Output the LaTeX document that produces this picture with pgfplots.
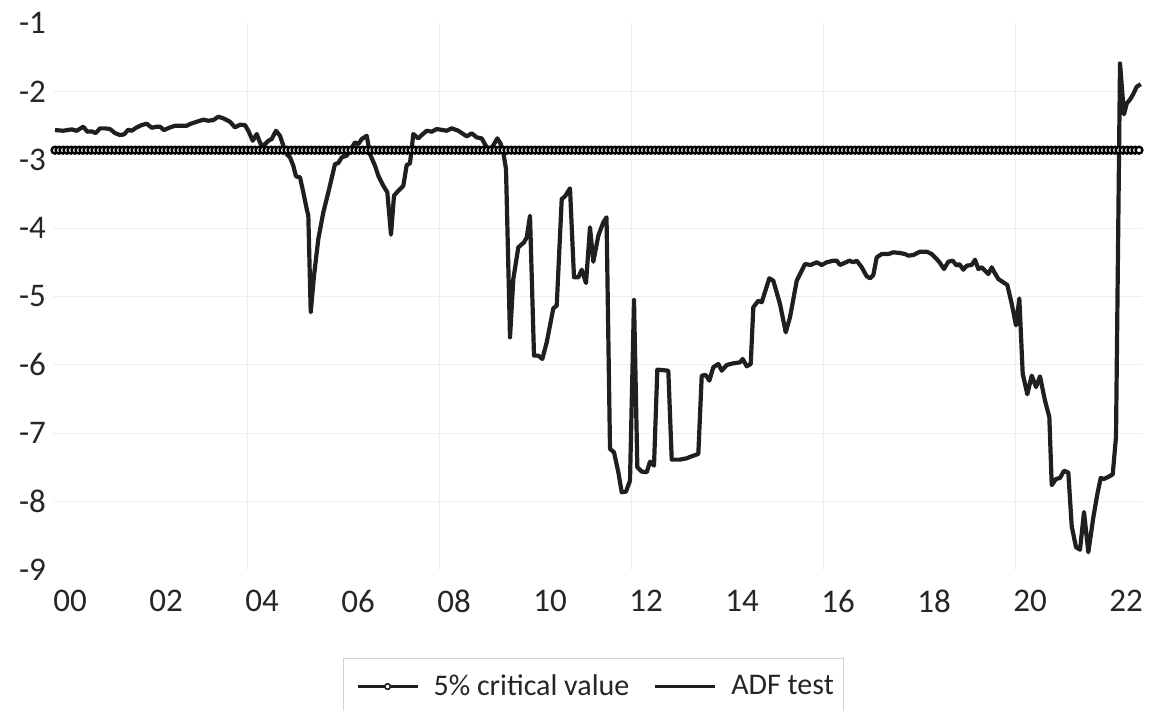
\documentclass[border=0pt]{standalone}
\usepackage{fontspec}
\setmainfont{Carlito}
\usepackage{pgfplots}
\pgfplotsset{compat=1.18}
\definecolor{linec}{HTML}{1F1F1F}
\definecolor{gridc}{HTML}{EFEFEF}
\definecolor{textc}{HTML}{262626}
\begin{document}
\begin{tikzpicture}
\begin{axis}[
  at={(26.5pt,70.5pt)}, anchor=south west,
  width=544.5pt, height=273.5pt, scale only axis,
  xmin=-0.5, xmax=271.75, ymin=-9, ymax=-1,
  axis line style={draw=none},
  major tick length=0pt,
  xtick={3.75,27.75,51.75,75.75,99.75,123.75,147.75,171.75,195.75,219.75,243.75,267.75},
  xticklabels={00,02,04,06,08,10,12,14,16,18,20,22},
  extra x ticks={48,96,144,192,240},
  extra x tick labels={},
  extra x tick style={xmajorgrids=true},
  ytick={-8,-7,-6,-5,-4,-3,-2},
  yticklabels={-8,-7,-6,-5,-4,-3,-2},
  ymajorgrids=true,
  extra y ticks={-9,-1},
  extra y tick labels={-9,-1},
  extra y tick style={ymajorgrids=false},
  grid style={gridc, line width=0.5pt},
  tick label style={font=\fontsize{16.5pt}{19pt}\selectfont, text=textc},
  xticklabel style={yshift=-6.5pt},
  legend columns=-1,
  legend style={at={(axis description cs:0.2663,-0.1609)}, anchor=north west,
    draw=gray!35, line width=0.6pt, fill=white,
    font=\fontsize{15pt}{18pt}\selectfont, text=textc,
    inner xsep=3pt, inner ysep=6pt,
    /tikz/every even column/.append style={column sep=7pt}},
]
\addplot[color=linec, line width=0.7pt, mark=*, mark size=1.7pt,
  mark options={fill=white, draw=black, line width=1.2pt},
  legend image code/.code={\path[draw=none,fill=none] (-4pt,-1pt) rectangle (36pt,1pt); \draw[mark repeat=2,mark phase=2,line width=1.5pt,mark options={fill=white,draw=linec,line width=0.8pt},mark size=1.4pt] plot coordinates {(0pt,0pt) (15pt,0pt) (30pt,0pt)};}]
coordinates {
(0,-2.86)(1,-2.86)(2,-2.86)(3,-2.86)(4,-2.86)(5,-2.86)(6,-2.86)(7,-2.86)(8,-2.86)(9,-2.86)
(10,-2.86)(11,-2.86)(12,-2.86)(13,-2.86)(14,-2.86)(15,-2.86)(16,-2.86)(17,-2.86)(18,-2.86)(19,-2.86)
(20,-2.86)(21,-2.86)(22,-2.86)(23,-2.86)(24,-2.86)(25,-2.86)(26,-2.86)(27,-2.86)(28,-2.86)(29,-2.86)
(30,-2.86)(31,-2.86)(32,-2.86)(33,-2.86)(34,-2.86)(35,-2.86)(36,-2.86)(37,-2.86)(38,-2.86)(39,-2.86)
(40,-2.86)(41,-2.86)(42,-2.86)(43,-2.86)(44,-2.86)(45,-2.86)(46,-2.86)(47,-2.86)(48,-2.86)(49,-2.86)
(50,-2.86)(51,-2.86)(52,-2.86)(53,-2.86)(54,-2.86)(55,-2.86)(56,-2.86)(57,-2.86)(58,-2.86)(59,-2.86)
(60,-2.86)(61,-2.86)(62,-2.86)(63,-2.86)(64,-2.86)(65,-2.86)(66,-2.86)(67,-2.86)(68,-2.86)(69,-2.86)
(70,-2.86)(71,-2.86)(72,-2.86)(73,-2.86)(74,-2.86)(75,-2.86)(76,-2.86)(77,-2.86)(78,-2.86)(79,-2.86)
(80,-2.86)(81,-2.86)(82,-2.86)(83,-2.86)(84,-2.86)(85,-2.86)(86,-2.86)(87,-2.86)(88,-2.86)(89,-2.86)
(90,-2.86)(91,-2.86)(92,-2.86)(93,-2.86)(94,-2.86)(95,-2.86)(96,-2.86)(97,-2.86)(98,-2.86)(99,-2.86)
(100,-2.86)(101,-2.86)(102,-2.86)(103,-2.86)(104,-2.86)(105,-2.86)(106,-2.86)(107,-2.86)(108,-2.86)(109,-2.86)
(110,-2.86)(111,-2.86)(112,-2.86)(113,-2.86)(114,-2.86)(115,-2.86)(116,-2.86)(117,-2.86)(118,-2.86)(119,-2.86)
(120,-2.86)(121,-2.86)(122,-2.86)(123,-2.86)(124,-2.86)(125,-2.86)(126,-2.86)(127,-2.86)(128,-2.86)(129,-2.86)
(130,-2.86)(131,-2.86)(132,-2.86)(133,-2.86)(134,-2.86)(135,-2.86)(136,-2.86)(137,-2.86)(138,-2.86)(139,-2.86)
(140,-2.86)(141,-2.86)(142,-2.86)(143,-2.86)(144,-2.86)(145,-2.86)(146,-2.86)(147,-2.86)(148,-2.86)(149,-2.86)
(150,-2.86)(151,-2.86)(152,-2.86)(153,-2.86)(154,-2.86)(155,-2.86)(156,-2.86)(157,-2.86)(158,-2.86)(159,-2.86)
(160,-2.86)(161,-2.86)(162,-2.86)(163,-2.86)(164,-2.86)(165,-2.86)(166,-2.86)(167,-2.86)(168,-2.86)(169,-2.86)
(170,-2.86)(171,-2.86)(172,-2.86)(173,-2.86)(174,-2.86)(175,-2.86)(176,-2.86)(177,-2.86)(178,-2.86)(179,-2.86)
(180,-2.86)(181,-2.86)(182,-2.86)(183,-2.86)(184,-2.86)(185,-2.86)(186,-2.86)(187,-2.86)(188,-2.86)(189,-2.86)
(190,-2.86)(191,-2.86)(192,-2.86)(193,-2.86)(194,-2.86)(195,-2.86)(196,-2.86)(197,-2.86)(198,-2.86)(199,-2.86)
(200,-2.86)(201,-2.86)(202,-2.86)(203,-2.86)(204,-2.86)(205,-2.86)(206,-2.86)(207,-2.86)(208,-2.86)(209,-2.86)
(210,-2.86)(211,-2.86)(212,-2.86)(213,-2.86)(214,-2.86)(215,-2.86)(216,-2.86)(217,-2.86)(218,-2.86)(219,-2.86)
(220,-2.86)(221,-2.86)(222,-2.86)(223,-2.86)(224,-2.86)(225,-2.86)(226,-2.86)(227,-2.86)(228,-2.86)(229,-2.86)
(230,-2.86)(231,-2.86)(232,-2.86)(233,-2.86)(234,-2.86)(235,-2.86)(236,-2.86)(237,-2.86)(238,-2.86)(239,-2.86)
(240,-2.86)(241,-2.86)(242,-2.86)(243,-2.86)(244,-2.86)(245,-2.86)(246,-2.86)(247,-2.86)(248,-2.86)(249,-2.86)
(250,-2.86)(251,-2.86)(252,-2.86)(253,-2.86)(254,-2.86)(255,-2.86)(256,-2.86)(257,-2.86)(258,-2.86)(259,-2.86)
(260,-2.86)(261,-2.86)(262,-2.86)(263,-2.86)(264,-2.86)(265,-2.86)(266,-2.86)(267,-2.86)(268,-2.86)(269,-2.86)
(270,-2.86)(271,-2.86)
};
\addlegendentry{5\% critical value}
\addplot[color=linec, line width=2.1pt, line join=round, mark=none,
  legend image code/.code={\path[draw=none,fill=none] (-4pt,-1pt) rectangle (36pt,1pt); \draw[line width=1.5pt] (0pt,0pt) -- (30pt,0pt);}]
coordinates {
(0,-2.566)(2.08,-2.576)(4.18,-2.556)(5.43,-2.576)(7.08,-2.517)(8.08,-2.590)(9.18,-2.585)(10.18,-2.610)
(11.25,-2.541)(12.5,-2.541)(13.75,-2.551)(15,-2.610)(16.25,-2.639)(17.25,-2.629)(18.33,-2.561)(19.18,-2.576)
(20.43,-2.527)(21.68,-2.493)(22.93,-2.473)(24.18,-2.532)(25.43,-2.517)(26.25,-2.517)(27.25,-2.566)(28.75,-2.527)
(30,-2.503)(31.68,-2.503)(32.93,-2.503)(33.75,-2.478)(35.43,-2.444)(37.08,-2.415)(38.33,-2.429)(39.58,-2.420)
(40.83,-2.371)(42.08,-2.395)(43.75,-2.444)(45,-2.527)(46.25,-2.488)(47.5,-2.493)(48.33,-2.576)(49.43,-2.722)
(50.43,-2.624)(51.08,-2.722)(51.68,-2.804)(52.5,-2.771)(53.33,-2.722)(54.18,-2.697)(55.25,-2.576)(56.25,-2.649)
(57.08,-2.795)(57.93,-2.917)(58.75,-2.965)(59.58,-3.088)(60.25,-3.243)(61.25,-3.257)(62.08,-3.477)(62.93,-3.721)
(63.33,-3.818)(63.93,-5.231)(64.75,-4.695)(65.83,-4.159)(67.08,-3.769)(68.33,-3.477)(70,-3.063)(70.83,-3.048)
(71.68,-2.965)(72.93,-2.941)(73.75,-2.868)(75,-2.746)(75.83,-2.771)(76.68,-2.697)(77.93,-2.649)(78.75,-2.917)
(80,-3.088)(80.83,-3.234)(82.08,-3.380)(83.08,-3.477)(84,-4.096)(84.75,-3.526)(85.83,-3.453)(87.08,-3.380)
(87.93,-3.077)(88.75,-3.053)(89.58,-2.624)(90.83,-2.687)(91.68,-2.639)(92.93,-2.576)(94.18,-2.590)(95.43,-2.551)
(97.93,-2.576)(99.18,-2.541)(100.83,-2.576)(102.93,-2.658)(104.18,-2.614)(105.43,-2.673)(106.68,-2.687)(107.93,-2.819)
(109.18,-2.829)(110.58,-2.687)(111.43,-2.770)(112.08,-2.892)(112.75,-3.136)(113.75,-5.597)(114.58,-4.744)(115.83,-4.281)
(117.25,-4.208)(117.93,-4.135)(118.75,-3.819)(119.75,-5.865)(120.83,-5.865)(121.83,-5.914)(122.93,-5.670)(124.58,-5.173)
(125.43,-5.134)(126.68,-3.575)(127.5,-3.535)(128.75,-3.418)(129.75,-4.720)(130.83,-4.720)(131.68,-4.608)(132.75,-4.803)
(133.75,-3.988)(134.58,-4.491)(135.83,-4.111)(137.08,-3.915)(137.88,-3.842)(138.75,-7.230)(139.75,-7.278)(140.83,-7.570)
(141.68,-7.863)(142.75,-7.854)(143.75,-7.693)(144.75,-5.051)(145.58,-7.497)(146.68,-7.561)(147.93,-7.570)(148.75,-7.415)
(149.75,-7.474)(150.58,-6.070)(153.33,-6.085)(154.18,-7.386)(156.25,-7.386)(157.93,-7.366)(159.18,-7.337)(160.83,-7.303)
(161.68,-6.158)(162.68,-6.148)(163.58,-6.231)(164.58,-6.035)(165.83,-5.987)(166.68,-6.085)(167.93,-6.002)(169.58,-5.977)
(171.25,-5.963)(171.93,-5.914)(172.93,-6.021)(173.93,-5.987)(174.58,-5.158)(175.83,-5.061)(176.68,-5.085)(178.58,-4.734)
(179.58,-4.769)(181.25,-5.110)(182.68,-5.524)(183.75,-5.304)(185.43,-4.769)(187.5,-4.525)(188.93,-4.539)(190.43,-4.500)
(191.68,-4.539)(192.93,-4.500)(194.58,-4.476)(195.43,-4.476)(196.25,-4.539)(197.75,-4.500)(198.58,-4.476)(199.58,-4.500)
(200.43,-4.476)(201.68,-4.573)(202.93,-4.705)(203.75,-4.734)(204.58,-4.686)(205.43,-4.427)(206.68,-4.379)(208.33,-4.379)
(209.58,-4.354)(211.25,-4.364)(212.5,-4.379)(213.33,-4.403)(214.58,-4.393)(216.25,-4.345)(217.93,-4.345)(219.18,-4.379)
(220.43,-4.452)(221.25,-4.510)(222.25,-4.598)(223.33,-4.491)(224.43,-4.476)(225.43,-4.549)(226.08,-4.525)(227.08,-4.608)
(227.93,-4.549)(229.18,-4.539)(230,-4.462)(230.83,-4.598)(231.68,-4.573)(232.5,-4.622)(233.33,-4.671)(234.18,-4.573)
(234.75,-4.637)(235.83,-4.744)(237.08,-4.793)(238.08,-4.832)(239.18,-5.108)(240.25,-5.423)(241.08,-5.029)(241.93,-6.131)
(243.08,-6.430)(244.18,-6.157)(245.25,-6.325)(246.25,-6.168)(247.5,-6.525)(248.58,-6.761)(249.18,-7.759)(250.25,-7.669)
(251.25,-7.654)(252.25,-7.549)(253.33,-7.575)(254.18,-8.362)(255.25,-8.667)(256.25,-8.703)(257.25,-8.152)(258.33,-8.740)
(259.58,-8.231)(260.58,-7.890)(261.43,-7.654)(262.25,-7.669)(263.33,-7.638)(264.43,-7.601)(265.25,-7.050)(266.25,-1.591)
(267.25,-2.336)(267.93,-2.178)(268.93,-2.105)(269.58,-2.037)(270.43,-1.932)(271.43,-1.895)
};
\addlegendentry{ADF test}
\end{axis}
\pgfresetboundingbox
\useasboundingbox (0,0) rectangle (578pt,355.5pt);
\end{tikzpicture}
\end{document}
